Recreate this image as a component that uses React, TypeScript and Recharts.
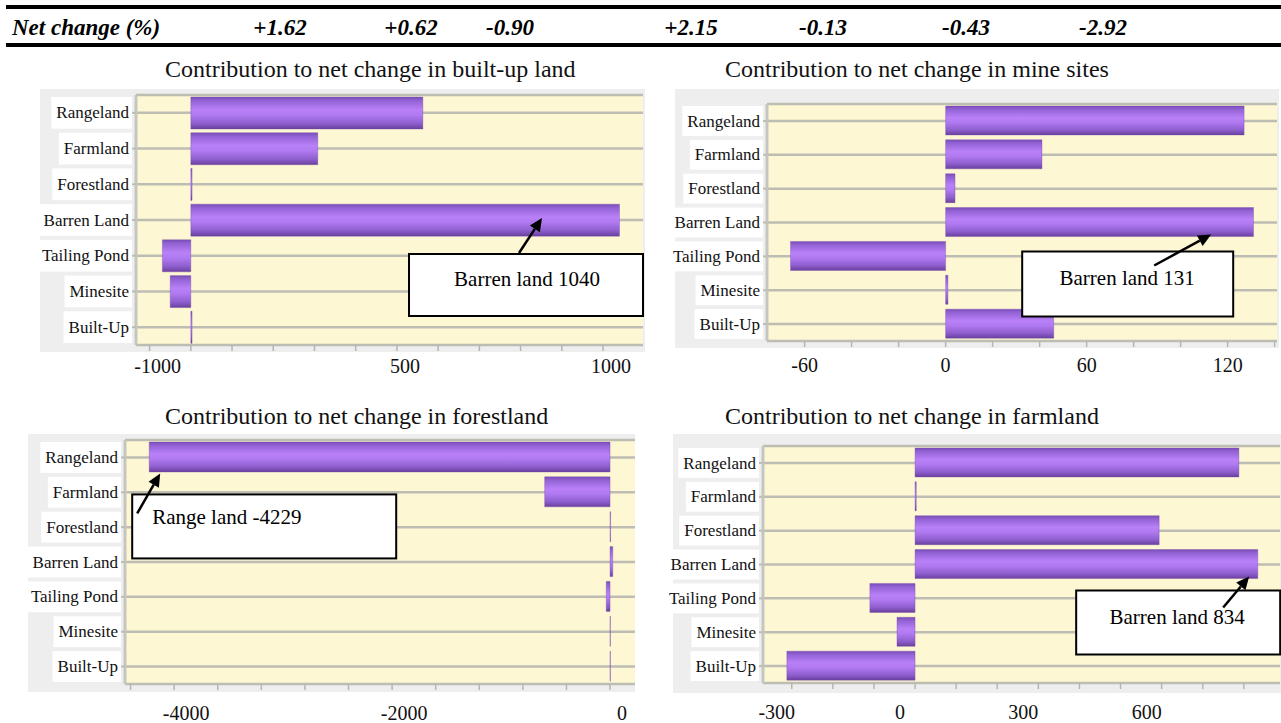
import React from 'react'
import { BarChart, Bar, XAxis, YAxis, CartesianGrid, ReferenceDot } from 'recharts'

const categories = ['Rangeland', 'Farmland', 'Forestland', 'Barren Land', 'Tailing Pond', 'Minesite', 'Built-Up']

const netChangeLabels = ['+1.62', '+0.62', '-0.90', '+2.15', '-0.13', '-0.43', '-2.92']

// contribution values, same order as categories
const builtUpValues = [563, 308, 3, 1040, -69, -50, 3]
const mineSiteValues = [127, 41, 4, 131, -66, 1, 46]
const forestValues = [-4229, -600, 5, 25, -35, 3, 3]
const farmValues = [788, 3, 594, 834, -110, -44, -312]

const builtUpTicks = [-100, 0, 100, 200, 300, 400, 500, 600, 700, 800, 900, 1000]
const mineSiteTicks = [-60, -40, -20, 0, 20, 40, 60, 80, 100, 120, 140]
const forestTicks = [-4400, -4000, -3600, -3200, -2800, -2400, -2000, -1600, -1200, -800, -400, 0]
const farmTicks = [-300, -200, -100, 0, 100, 200, 300, 400, 500, 600, 700, 800]

// tick value -> printed label (as printed in the figure)
const builtUpTickLabels: [number, string][] = [[-100, '-1000'], [500, '500'], [1000, '1000']]
const mineSiteTickLabels: [number, string][] = [[-60, '-60'], [0, '0'], [60, '60'], [120, '120']]
const forestTickLabels: [number, string][] = [[-4000, '-4000'], [-2000, '-2000'], [0, '0']]
const farmTickLabels: [number, string][] = [[-300, '-300'], [0, '0'], [300, '300'], [600, '600']]

const SERIF = "'Liberation Serif', 'DejaVu Serif', serif"

let measureCtx: CanvasRenderingContext2D | null = null
const textWidth = (s: string, size: number) => {
  if (!measureCtx) measureCtx = document.createElement('canvas').getContext('2d')
  if (!measureCtx) return s.length * size * 0.45
  measureCtx.font = `${size}px ${SERIF}`
  return measureCtx.measureText(s).width
}

type Box = { x: number; y: number; w: number; h: number }

interface Note {
  value: number
  category: string
  text: string
  tipDy: number
  tail: [number, number]
  box: [number, number, number, number]
  textPos: [number, number]
  anchor: 'middle' | 'start'
}

interface ChartProps {
  id: string
  values: number[]
  domain: [number, number]
  ticks: number[]
  tickLabels: [number, string][]
  labelDx: number
  labelDy: number
  panel: Box
  plot: Box
  barSize: number
  note: Note
}

const CatTick = (props: any) => {
  const { x, y, payload, band } = props
  const tw = textWidth(payload.value, 17)
  return (
    <g>
      <rect x={x - tw - 5} y={y - band / 2 + 2} width={tw + 8} height={band - 4} fill="#ffffff" />
      <text x={x} y={y} dy="0.33em" textAnchor="end" fontSize={17} style={{ fontFamily: SERIF }} fill="#111">
        {payload.value}
      </text>
    </g>
  )
}

const ValueTick = (props: any) => {
  const { x, y, payload, labels, dx, dy } = props
  const label = (labels as [number, string][]).find((l) => l[0] === payload.value)
  return (
    <g>
      <line x1={x} x2={x} y1={y} y2={y + 6} stroke="#b5b5b5" strokeWidth={1.5} />
      {label && (
        <text x={x + dx} y={y + dy} textAnchor="middle" fontSize={20} style={{ fontFamily: SERIF }} fill="#111">
          {label[1]}
        </text>
      )}
    </g>
  )
}

const NoteShape = (props: any) => {
  const { cx, cy, note } = props as { cx: number; cy: number; note: Note }
  if (cx == null || cy == null) return null
  const tx = cx
  const ty = cy + note.tipDy
  const sx = tx + note.tail[0]
  const sy = ty + note.tail[1]
  const ang = Math.atan2(ty - sy, tx - sx)
  const L = 13
  const W = 6
  const bx = tx - L * Math.cos(ang)
  const by = ty - L * Math.sin(ang)
  const p1 = `${bx + W * Math.sin(ang)},${by - W * Math.cos(ang)}`
  const p2 = `${bx - W * Math.sin(ang)},${by + W * Math.cos(ang)}`
  return (
    <g>
      <rect
        x={tx + note.box[0]}
        y={ty + note.box[1]}
        width={note.box[2]}
        height={note.box[3]}
        fill="#ffffff"
        stroke="#000"
        strokeWidth={2}
      />
      <text
        x={tx + note.textPos[0]}
        y={ty + note.textPos[1]}
        textAnchor={note.anchor}
        fontSize={21}
        style={{ fontFamily: SERIF }}
        fill="#000"
      >
        {note.text}
      </text>
      <line x1={sx} y1={sy} x2={bx} y2={by} stroke="#000" strokeWidth={2.5} />
      <polygon points={`${tx},${ty} ${p1} ${p2}`} fill="#000" />
    </g>
  )
}

// extra room left of the grey panel so long category labels are not clipped
const LEFT_PAD = 16

function ContributionChart(p: ChartProps) {
  const data = categories.map((name, i) => ({ name, value: p.values[i] }))
  const band = p.plot.h / categories.length
  const svgX = p.panel.x - LEFT_PAD
  const svgH = Math.min(p.plot.y + p.plot.h + 46, 723) - p.panel.y
  const yAxisW = p.plot.x - svgX
  const top = p.plot.y - p.panel.y
  const right = p.panel.x + p.panel.w - (p.plot.x + p.plot.w)
  const xAxisH = svgH - top - p.plot.h

  return (
    <>
      <div
        style={{
          position: 'absolute',
          left: p.panel.x,
          top: p.panel.y,
          width: p.panel.w,
          height: p.panel.h,
          background: '#eeeeee',
        }}
      />
      <div style={{ position: 'absolute', left: svgX, top: p.panel.y }}>
        <BarChart
          width={p.panel.w + LEFT_PAD}
          height={svgH}
          data={data}
          layout="vertical"
          margin={{ top, right, left: 0, bottom: 0 }}
        >
          <defs>
            <linearGradient id={`grad-${p.id}`} x1="0" y1="0" x2="0" y2="1">
              <stop offset="0%" stopColor="#7a4db8" />
              <stop offset="12%" stopColor="#9363d4" />
              <stop offset="40%" stopColor="#b980f8" />
              <stop offset="56%" stopColor="#b17af1" />
              <stop offset="82%" stopColor="#8f5fcf" />
              <stop offset="100%" stopColor="#6a409e" />
            </linearGradient>
          </defs>
          <CartesianGrid vertical={false} fill="#fdf8d3" stroke="#bdbdb3" strokeWidth={2.5} />
          <XAxis
            type="number"
            domain={p.domain}
            allowDataOverflow
            ticks={p.ticks}
            interval={0}
            height={xAxisH}
            axisLine={false}
            tickLine={false}
            tickSize={0}
            tickMargin={0}
            tick={<ValueTick labels={p.tickLabels} dx={p.labelDx} dy={p.labelDy} />}
          />
          <YAxis
            type="category"
            dataKey="name"
            width={yAxisW}
            interval={0}
            axisLine={{ stroke: '#c6c6c0', strokeWidth: 3 }}
            tickLine={{ stroke: '#bdbdb3', strokeWidth: 2 }}
            tickSize={6}
            tickMargin={1}
            tick={<CatTick band={band} />}
          />
          <Bar
            dataKey="value"
            fill={`url(#grad-${p.id})`}
            stroke="#7446a8"
            strokeOpacity={0.35}
            strokeWidth={1}
            barSize={p.barSize}
            isAnimationActive={false}
          />
          <ReferenceDot
            x={p.note.value}
            y={p.note.category}
            r={0}
            ifOverflow="visible"
            shape={(sp: any) => <NoteShape {...sp} note={p.note} />}
          />
        </BarChart>
      </div>
    </>
  )
}

const netChangeX = [280, 411, 510, 691, 823, 966, 1103]

const titles: [string, number, number][] = [
  ['Contribution to net change in built-up land', 165, 77],
  ['Contribution to net change in mine sites', 725, 77],
  ['Contribution to net change in forestland', 165, 424],
  ['Contribution to net change in farmland', 725, 424],
]

export default function App() {
  return (
    <div
      style={{
        position: 'absolute',
        left: 0,
        top: 0,
        width: 1281,
        height: 723,
        background: '#ffffff',
        overflow: 'hidden',
        fontFamily: SERIF,
      }}
    >
      <svg width={1281} height={723} style={{ position: 'absolute', left: 0, top: 0 }}>
        <rect x={6} y={5} width={1275} height={4} fill="#000" />
        <rect x={6} y={43} width={1275} height={4} fill="#000" />
        <text x={12} y={35} style={{ fontFamily: SERIF }} fontSize={23} fontWeight="bold" fontStyle="italic">
          Net change (%)
        </text>
        {netChangeLabels.map((t, i) => (
          <text
            key={t}
            x={netChangeX[i]}
            y={35}
            textAnchor="middle"
            style={{ fontFamily: SERIF }}
            fontSize={23}
            fontWeight="bold"
            fontStyle="italic"
          >
            {t}
          </text>
        ))}
        {titles.map(([t, x, y]) => (
          <text key={t} x={x} y={y} style={{ fontFamily: SERIF }} fontSize={24} fill="#111">
            {t}
          </text>
        ))}
      </svg>

      <ContributionChart
        id="builtup"
        values={builtUpValues}
        domain={[-133, 1097]}
        ticks={builtUpTicks}
        tickLabels={builtUpTickLabels}
        labelDx={8}
        labelDy={28}
        panel={{ x: 40, y: 89, w: 605, h: 263 }}
        plot={{ x: 136, y: 95, w: 507, h: 250 }}
        barSize={32}
        note={{
          value: 852,
          category: 'Barren Land',
          text: 'Barren land 1040',
          tipDy: -2,
          tail: [-23, 35],
          box: [-133, 36, 234, 62],
          textPos: [-15, 68],
          anchor: 'middle',
        }}
      />

      <ContributionChart
        id="mine"
        values={mineSiteValues}
        domain={[-76, 141]}
        ticks={mineSiteTicks}
        tickLabels={mineSiteTickLabels}
        labelDx={0}
        labelDy={31}
        panel={{ x: 675, y: 89, w: 604, h: 259 }}
        plot={{ x: 767, y: 104, w: 510, h: 237 }}
        barSize={29}
        note={{
          value: 113,
          category: 'Barren Land',
          text: 'Barren land 131',
          tipDy: 12,
          tail: [-57, 31],
          box: [-189, 17, 211, 65],
          textPos: [-84, 50],
          anchor: 'middle',
        }}
      />

      <ContributionChart
        id="forest"
        values={forestValues}
        domain={[-4451, 229]}
        ticks={forestTicks}
        tickLabels={forestTickLabels}
        labelDx={12}
        labelDy={36}
        panel={{ x: 28, y: 434, w: 607, h: 258 }}
        plot={{ x: 125, y: 440, w: 510, h: 244 }}
        barSize={30}
        note={{
          value: -4128,
          category: 'Rangeland',
          text: 'Range land -4229',
          tipDy: 16,
          tail: [-23, 40],
          box: [-28, 21, 264, 64],
          textPos: [-8, 51],
          anchor: 'start',
        }}
      />

      <ContributionChart
        id="farm"
        values={farmValues}
        domain={[-370, 888]}
        ticks={farmTicks}
        tickLabels={farmTickLabels}
        labelDx={-15}
        labelDy={36}
        panel={{ x: 673, y: 434, w: 608, h: 259 }}
        plot={{ x: 763, y: 446, w: 517, h: 237 }}
        barSize={29}
        note={{
          value: 813,
          category: 'Barren Land',
          text: 'Barren land 834',
          tipDy: 12,
          tail: [-26, 31],
          box: [-173, 14, 204, 64],
          textPos: [-72, 47],
          anchor: 'middle',
        }}
      />
    </div>
  )
}
